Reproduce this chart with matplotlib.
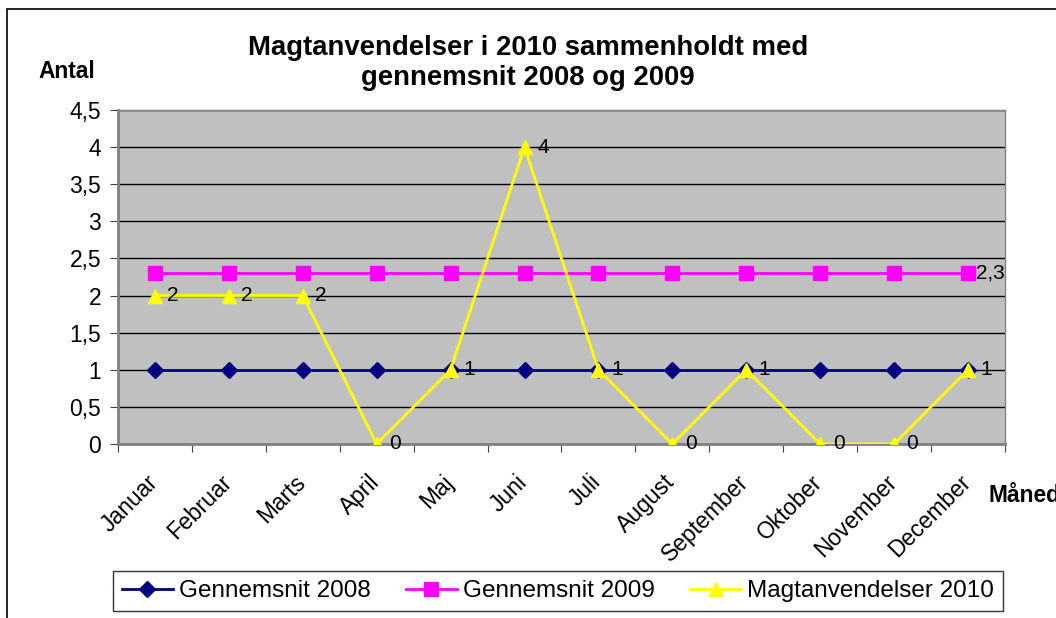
import matplotlib.pyplot as plt
import matplotlib.transforms as mtransforms
from matplotlib.patches import Rectangle

plt.rcParams['font.family'] = ['Liberation Sans', 'DejaVu Sans']

months = ["Januar", "Februar", "Marts", "April", "Maj", "Juni", "Juli",
          "August", "September", "Oktober", "November", "December"]
avg_2008 = [1, 1, 1, 1, 1, 1, 1, 1, 1, 1, 1, 1]
avg_2009 = [2.3, 2.3, 2.3, 2.3, 2.3, 2.3, 2.3, 2.3, 2.3, 2.3, 2.3, 2.3]
magt_2010 = [2, 2, 2, 0, 1, 4, 1, 0, 1, 0, 0, 1]
y_ticks = [0, 0.5, 1, 1.5, 2, 2.5, 3, 3.5, 4, 4.5]
y_labels = ["0", "0,5", "1", "1,5", "2", "2,5", "3", "3,5", "4", "4,5"]

fig = plt.figure(figsize=(10.56, 6.18), dpi=100)
ax = fig.add_axes([0.1117, 0.2816, 0.84, 0.5404])

# outer chart border (cut off at right and bottom)
fig.patches.append(Rectangle((7 / 1056, -0.1), 1.2, 1 - 9 / 618 + 0.1,
                             transform=fig.transFigure, fill=False,
                             edgecolor="black", linewidth=1.2))

ax.set_facecolor("#c0c0c0")
x = list(range(len(months)))

ax.plot(x, avg_2008, color="#000080", marker="D", markersize=8, linewidth=2,
        label="Gennemsnit 2008", zorder=3)
ax.plot(x, avg_2009, color="#ff00ff", marker="s", markersize=10.5, linewidth=2,
        label="Gennemsnit 2009", zorder=3)
ax.plot(x, magt_2010, color="#ffff00", marker="^", markersize=10.5, linewidth=2,
        label="Magtanvendelser 2010", zorder=4)

# data labels
for xi, v in zip(x, magt_2010):
    ax.annotate(f"{v:g}".replace(".", ","), (xi, v), xytext=(9, 0),
                textcoords="offset points", va="center", ha="left",
                fontsize=15, zorder=5)
ax.annotate(f"{avg_2009[-1]:g}".replace(".", ","), (x[-1], avg_2009[-1]),
            xytext=(6, 0), textcoords="offset points", va="center", ha="left",
            fontsize=15, zorder=5)

ax.set_xlim(-0.5, len(months) - 0.5)
ax.set_ylim(0, 4.5)
ax.set_yticks(y_ticks)
ax.set_yticklabels(y_labels, fontsize=16.5)
ax.yaxis.grid(True, color="black", linewidth=1)
ax.set_axisbelow(True)

ax.set_xticks([i - 0.5 for i in range(len(months) + 1)])
ax.set_xticklabels([])
ax.set_xticks(x, minor=True)
ax.set_xticklabels(months, minor=True, rotation=45, ha="right", va="top",
                   rotation_mode="anchor", fontsize=16.5)
ax.tick_params(axis="x", which="minor", length=0, pad=14)
ax.tick_params(axis="x", which="major", length=6, color="#404040", direction="out")
ax.tick_params(axis="y", length=6, color="#404040", direction="out", pad=6)

# nudge month labels a little left/down like the original
shift = mtransforms.ScaledTranslation(-9 / 100, -7 / 100, fig.dpi_scale_trans)
for lbl in ax.get_xticklabels(minor=True):
    lbl.set_transform(lbl.get_transform() + shift)

for s in ["left", "bottom"]:
    ax.spines[s].set_color("#808080")
    ax.spines[s].set_linewidth(2)
for s in ["top", "right"]:
    ax.spines[s].set_color("#808080")
    ax.spines[s].set_linewidth(1)

fig.text(0.5, 1 - 63 / 618, "Magtanvendelser i 2010 sammenholdt med\ngennemsnit 2008 og 2009",
         ha="center", va="center", fontsize=19.8, fontweight="bold", linespacing=1.22)
fig.text(38 / 1056, 1 - 72 / 618, "Antal", ha="left", va="center",
         fontsize=16.4, fontweight="bold")
fig.text(988 / 1056, 1 - 495 / 618, "Måned", ha="left", va="center",
         fontsize=16.4, fontweight="bold")

leg = fig.legend(loc="center", bbox_to_anchor=(558 / 1056, 1 - 591 / 618), ncol=3,
                 fontsize=17.5, frameon=True, fancybox=False, edgecolor="black",
                 handlelength=2.1, handletextpad=0.25, columnspacing=1.45,
                 borderpad=0.35, borderaxespad=0)
leg.get_frame().set_linewidth(1)

fig.savefig("out.png", dpi=100)
